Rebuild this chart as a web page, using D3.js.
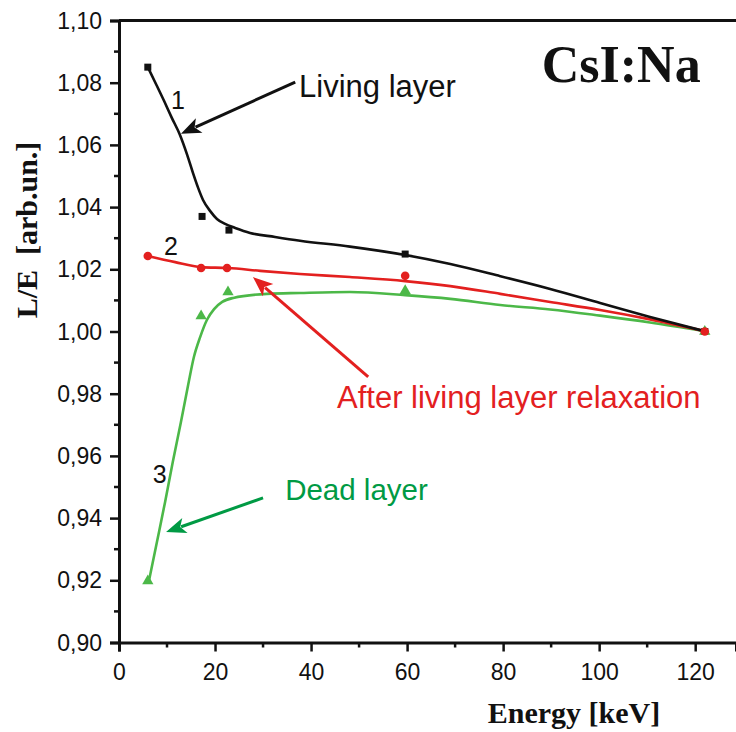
<!DOCTYPE html>
<html>
<head>
<meta charset="utf-8">
<script src="https://cdn.jsdelivr.net/npm/d3@7"></script>
<style>
  body { margin: 0; background: #fff; }
  .sans { font-family: "Liberation Sans", Arial, sans-serif; }
  .serif { font-family: "Liberation Serif", "Times New Roman", serif; font-weight: bold; }
</style>
</head>
<body>
<svg id="chart" width="736" height="732"></svg>
<script>
// measured points (energy keV, L/E)
const blackPts = [[6, 1.085], [17.3, 1.037], [22.9, 1.0326], [59.6, 1.0249], [122, 1.0]];
const redPts = [[6, 1.0243], [17.1, 1.0204], [22.5, 1.0204], [59.6, 1.0179], [122, 1.0]];
const greenPts = [[6, 0.9198], [17.1, 1.005], [22.7, 1.0127], [59.6, 1.0131], [122, 1.0]];

// fitted curves
const blackCurve = [[6, 1.085], [7.7, 1.0796], [9.4, 1.0741], [11, 1.0687], [12.7, 1.0632], [14.2, 1.0568],
  [15.4, 1.051], [16.5, 1.0461], [17.5, 1.0423], [19, 1.0387], [20.4, 1.0362], [22.1, 1.0346],
  [24.2, 1.0333], [27.3, 1.0317], [32.5, 1.0304], [37.7, 1.0292], [48.1, 1.0273], [59.6, 1.0246],
  [69, 1.0217], [79.4, 1.0178], [89.8, 1.0137], [100.2, 1.0092], [110.6, 1.0047], [121.7, 1.0002]];
const redCurve = [[6, 1.0243], [11.7, 1.0223], [17.1, 1.0207], [22.7, 1.0204], [29.4, 1.0195],
  [37.7, 1.0185], [48.1, 1.0175], [59.6, 1.0162], [69, 1.0146], [79.4, 1.0121], [89.8, 1.0095],
  [100.2, 1.0069], [110.6, 1.0039], [121.7, 1.0002]];
const greenCurve = [[6.2, 0.9195], [7.9, 0.9323], [9.6, 0.9452], [11.2, 0.958], [12.9, 0.9709],
  [14.4, 0.9828], [15.6, 0.9918], [16.9, 0.9982], [18.3, 1.0037], [19.8, 1.0072], [21.5, 1.0095],
  [23.8, 1.0108], [30.8, 1.0121], [37.7, 1.0124], [48.1, 1.0127], [59.6, 1.0117], [69, 1.0105],
  [79.4, 1.0085], [89.8, 1.0071], [100.2, 1.0051], [110.6, 1.0029], [121.7, 1.0002]];

const xTicks = [0, 20, 40, 60, 80, 100, 120];
const xMinor = [10, 30, 50, 70, 90, 110];
const yTicks = [0.90, 0.92, 0.94, 0.96, 0.98, 1.00, 1.02, 1.04, 1.06, 1.08, 1.10];
const yMinor = [0.91, 0.93, 0.95, 0.97, 0.99, 1.01, 1.03, 1.05, 1.07, 1.09];

// annotation arrows [tail, tip] and labels
const arrows = [
  {from: [36.7, 1.0802], to: [12.9, 1.0636], color: '#111'},
  {from: [51.9, 0.9854], to: [27.9, 1.0175], color: '#e3201f'},
  {from: [30.0, 0.9465], to: [9.8, 0.9355], color: '#009a44'}
];
const labels = [
  {text: 'Living layer', at: [37.5, 1.0754], color: '#111', size: 31},
  {text: 'After living layer relaxation', at: [45.4, 0.9754], color: '#e3201f', size: 31},
  {text: 'Dead layer', at: [34.6, 0.9458], color: '#009a44', size: 29.5},
  {text: '1', at: [12.3, 1.0715], color: '#111', size: 25, mid: true},
  {text: '2', at: [10.8, 1.0246], color: '#111', size: 25, mid: true},
  {text: '3', at: [8.5, 0.9513], color: '#111', size: 25, mid: true}
];

const svg = d3.select('#chart');
const x = d3.scaleLinear().domain([0, 128.5]).range([119, 736]);
const y = d3.scaleLinear().domain([0.9, 1.1]).range([642.5, 20.5]);
const fmt = d => d3.format('.2f')(d).replace('.', ',');

// axes
const xAxis = svg.append('g').attr('transform', `translate(0,${y(0.9)})`)
  .call(d3.axisBottom(x).tickValues(xTicks).tickSize(9).tickPadding(12).tickFormat(d3.format('d')));
xAxis.append('g').selectAll('line').data(xMinor).join('line')
  .attr('x1', d => x(d)).attr('x2', d => x(d)).attr('y1', 0).attr('y2', 5);

const yAxis = svg.append('g').attr('transform', `translate(${x(0)},0)`)
  .call(d3.axisLeft(y).tickValues(yTicks).tickSize(9).tickPadding(8).tickFormat(fmt));
yAxis.append('g').selectAll('line').data(yMinor).join('line')
  .attr('x1', 0).attr('x2', -5).attr('y1', d => y(d)).attr('y2', d => y(d));

[xAxis, yAxis].forEach(a => {
  a.attr('font-family', null).attr('font-size', null);
  a.select('.domain').attr('stroke', '#111').attr('stroke-width', 3);
  a.selectAll('line').attr('stroke', '#111').attr('stroke-width', 2.5);
  a.selectAll('text').attr('class', 'sans').attr('font-size', 23).attr('fill', '#111');
});
yAxis.selectAll('.tick text').attr('dy', '0.33em');

// top frame line
svg.append('line').attr('x1', x(0)).attr('x2', 736).attr('y1', y(1.1)).attr('y2', y(1.1))
  .attr('stroke', '#111').attr('stroke-width', 3);

// curves
const line = d3.line().x(d => x(d[0])).y(d => y(d[1])).curve(d3.curveMonotoneX);
const curves = [
  {pts: greenCurve, color: '#4cb848'},
  {pts: redCurve, color: '#e3201f'},
  {pts: blackCurve, color: '#111'}
];
svg.append('g').selectAll('path').data(curves).join('path')
  .attr('d', d => line(d.pts)).attr('fill', 'none')
  .attr('stroke', d => d.color).attr('stroke-width', 2.6);

// markers
svg.append('g').selectAll('rect').data(blackPts).join('rect')
  .attr('x', d => x(d[0]) - 3.5).attr('y', d => y(d[1]) - 3.5)
  .attr('width', 7).attr('height', 7).attr('fill', '#111');
svg.append('g').selectAll('path').data(greenPts).join('path')
  .attr('d', d3.symbol(d3.symbolTriangle, 55))
  .attr('transform', d => `translate(${x(d[0])},${y(d[1])})`).attr('fill', '#4cb848');
svg.append('g').selectAll('circle').data(redPts).join('circle')
  .attr('cx', d => x(d[0])).attr('cy', d => y(d[1])).attr('r', 4.3).attr('fill', '#e3201f');

// arrows
const ag = svg.append('g');
arrows.forEach(a => {
  const [x1, y1] = [x(a.from[0]), y(a.from[1])];
  const [x2, y2] = [x(a.to[0]), y(a.to[1])];
  const ang = Math.atan2(y2 - y1, x2 - x1);
  const hl = 20, hw = 8;
  const bx = x2 - hl * Math.cos(ang), by = y2 - hl * Math.sin(ang);
  ag.append('line').attr('x1', x1).attr('y1', y1)
    .attr('x2', bx + 4 * Math.cos(ang)).attr('y2', by + 4 * Math.sin(ang))
    .attr('stroke', a.color).attr('stroke-width', 3);
  const pts = [
    [x2, y2],
    [bx + hw * Math.sin(ang), by - hw * Math.cos(ang)],
    [bx + 5 * Math.cos(ang), by + 5 * Math.sin(ang)],
    [bx - hw * Math.sin(ang), by + hw * Math.cos(ang)]
  ];
  ag.append('polygon').attr('points', pts.map(p => p.join(',')).join(' ')).attr('fill', a.color);
});

// labels
svg.append('g').selectAll('text').data(labels).join('text')
  .attr('class', 'sans')
  .attr('x', d => x(d.at[0])).attr('y', d => y(d.at[1]))
  .attr('text-anchor', d => d.mid ? 'middle' : 'start').attr('font-size', d => d.size)
  .attr('fill', d => d.color).text(d => d.text);

svg.append('text').attr('class', 'serif').attr('x', x(104.6)).attr('y', y(1.0802))
  .attr('text-anchor', 'middle').attr('font-size', 52).attr('fill', '#111').text('CsI:Na');

// axis titles
svg.append('text').attr('class', 'serif').attr('x', 574).attr('y', 723)
  .attr('text-anchor', 'middle').attr('font-size', 30).attr('fill', '#111').text('Energy [keV]');
svg.append('text').attr('class', 'serif')
  .attr('transform', 'translate(37,230) rotate(-90)')
  .attr('text-anchor', 'middle').attr('font-size', 30).attr('fill', '#111')
  .attr('xml:space', 'preserve').text('L/E  [arb.un.]');
</script>
</body>
</html>
